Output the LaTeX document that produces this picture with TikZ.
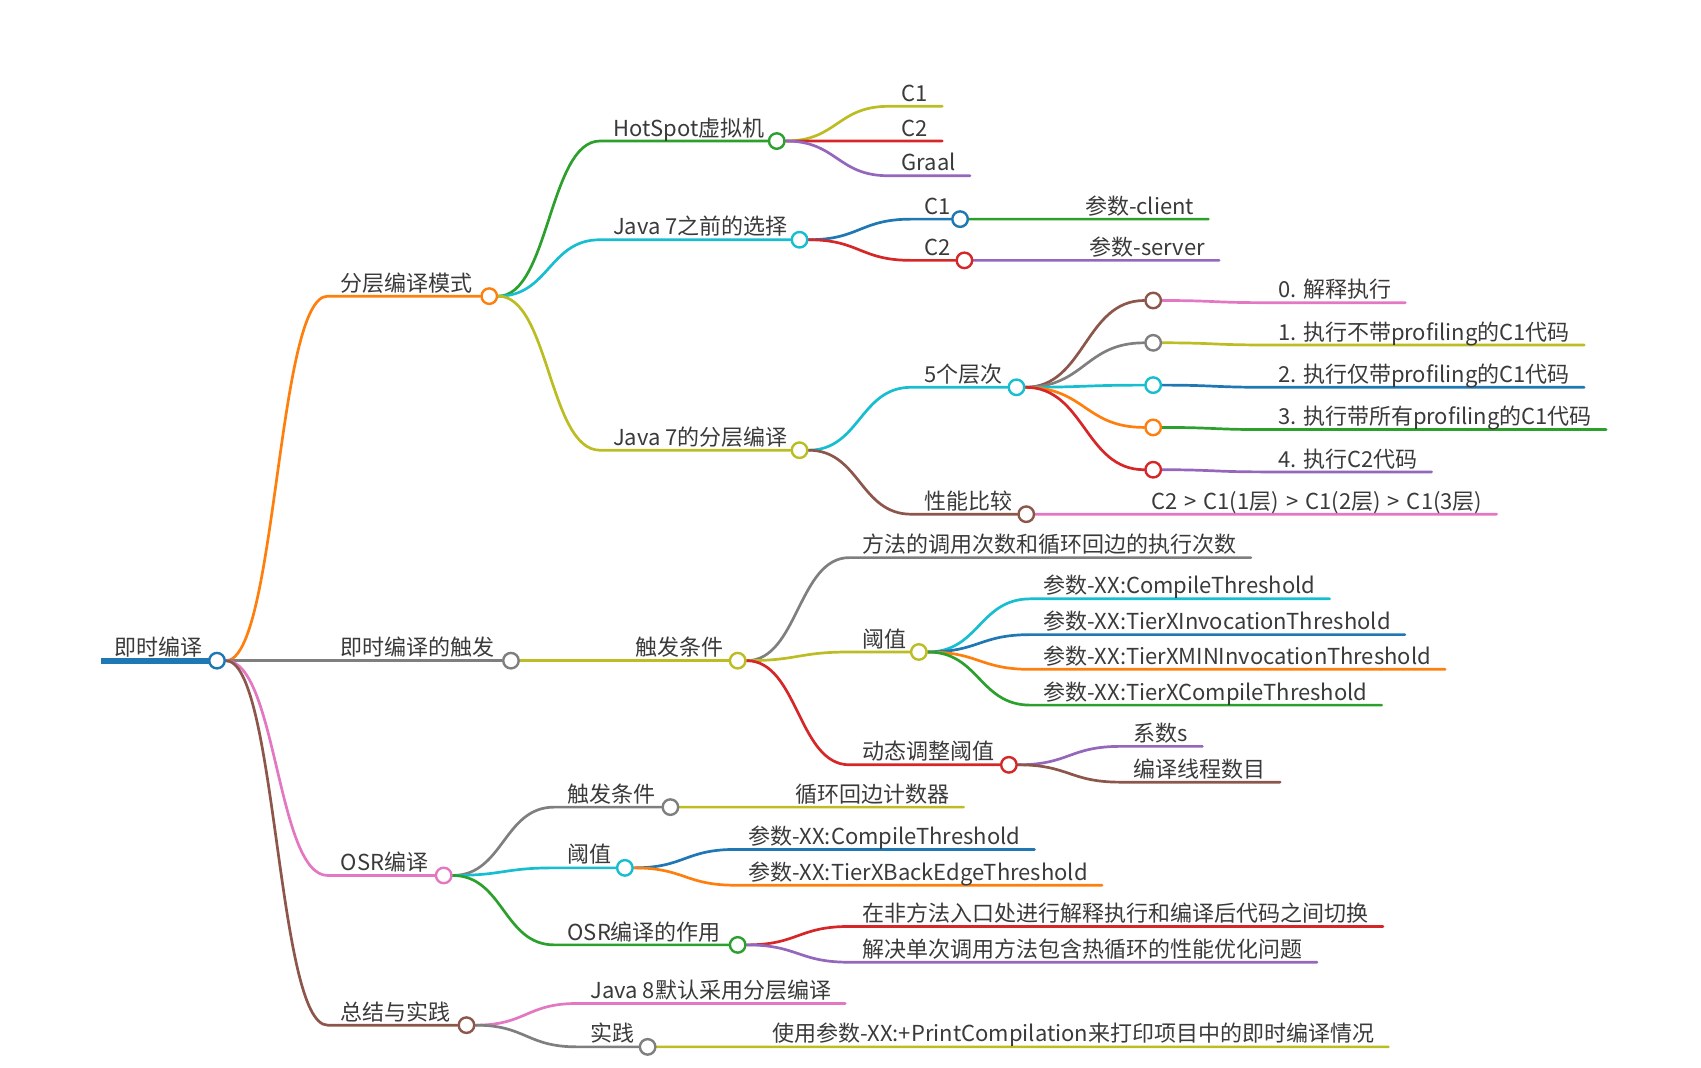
\documentclass[tikz,border=0pt]{standalone}
\usepackage{fontspec}
\setmainfont{Noto Sans CJK SC}
\usetikzlibrary{calc}
\pgfdeclarelayer{bg}
\pgfsetlayers{bg,main}
\definecolor{cblue}{HTML}{1F77B4}
\definecolor{corange}{HTML}{FF7F0E}
\definecolor{cgreen}{HTML}{2CA02C}
\definecolor{cred}{HTML}{D62728}
\definecolor{cpurple}{HTML}{9467BD}
\definecolor{cbrown}{HTML}{8C564B}
\definecolor{cpink}{HTML}{E377C2}
\definecolor{cgray}{HTML}{7F7F7F}
\definecolor{colive}{HTML}{BCBD22}
\definecolor{ccyan}{HTML}{17BECF}
\definecolor{txt}{HTML}{3A3A3A}
\tikzset{
  edge/.style={line width=2.7pt, line cap=round},
  dot/.style={circle, draw=#1, fill=white, line width=2.4pt, minimum size=15.5pt, inner sep=0pt},
  lbl/.style={anchor=base west, inner sep=0pt, font=\fontsize{22}{26}\selectfont, text=txt},
}
\newcommand\curv[3]{\draw[edge,#1] let \p1=(#2), \p2=(#3) in (\p1) .. controls ({0.5*\x1+0.5*\x2},\y1) and ({0.5*\x1+0.5*\x2},\y2) .. (\p2);}
\newcommand\brch[4]{\draw[edge,#1] let \p1=(#2), \p2=(#3) in (\p1) .. controls ({0.5*\x1+0.5*\x2},\y1) and ({0.5*\x1+0.5*\x2},\y2) .. (\p2) -- (#4);}
% leaf text: name, x of text, y of line, text  -> nodes t<name>, b<name> (bend), e<name> (line end)
\newcommand\leaf[4]{\node[lbl] (t#1) at (#2,#3-4.5) {#4};
  \coordinate (b#1) at (#2-12,#3);
  \coordinate (e#1) at ($(t#1.base east)+(13,4.5)$);}
% inner node: name, x of text, y of line, circle x, colour, text
\newcommand\inner[6]{\node[lbl] (t#1) at (#2,#3-4.5) {#6};
  \coordinate (b#1) at (#2-12,#3);
  \node[dot=#5] (#1) at (#4,#3) {};}
\newcommand\gtsp{\hspace{0.32em}>\hspace{0.32em}}
\begin{document}
\begin{tikzpicture}[x=1.0848pt,y=-1.0848pt]
\useasboundingbox (0,0) rectangle (1568,984);
% ---------- root
\coordinate (R0) at (93,609);
\node[lbl] (tR) at (105,604.5) {即时编译};
\node[dot=cblue] (R) at (200,609) {};
% ---------- level 1
\inner{A}{314}{273}{451}{corange}{分层编译模式}
\inner{B}{314}{609}{471}{cgray}{即时编译的触发}
\inner{C}{314}{807}{409}{cpink}{OSR编译}
\inner{D}{314}{945}{430}{cbrown}{总结与实践}
% ---------- A children
\inner{A1}{565}{130}{716}{cgreen}{HotSpot虚拟机}
\inner{A2}{565}{221}{737}{ccyan}{Java 7之前的选择}
\inner{A3}{565}{415}{737}{colive}{Java 7的分层编译}
\leaf{A1a}{831}{98}{C1}
\leaf{A1b}{831}{130}{C2}
\leaf{A1c}{831}{162}{Graal}
\inner{A2a}{852}{202}{885}{cblue}{C1}
\inner{A2b}{852}{240}{889}{cred}{C2}
\leaf{A2a1}{1000}{202}{参数-client}
\leaf{A2b1}{1004}{240}{参数-server}
\inner{A3a}{852}{357}{937}{ccyan}{5个层次}
\inner{A3b}{852}{474}{946}{cbrown}{性能比较}
\node[dot=cbrown]  (L0) at (1063,277) {};
\node[dot=cgray]   (L1) at (1063,316) {};
\node[dot=ccyan]   (L2) at (1063,355) {};
\node[dot=corange] (L3) at (1063,394) {};
\node[dot=cred]    (L4) at (1063,433) {};
\leaf{L0t}{1178}{279}{0. 解释执行}
\leaf{L1t}{1178}{318}{1. 执行不带profiling的C1代码}
\leaf{L2t}{1178}{357}{2. 执行仅带profiling的C1代码}
\leaf{L3t}{1178}{396}{3. 执行带所有profiling的C1代码}
\leaf{L4t}{1178}{435}{4. 执行C2代码}
\leaf{A3b1}{1061}{474}{C2\gtsp C1(1层)\gtsp C1(2层)\gtsp C1(3层)}
% ---------- B children
\inner{B1}{586}{609}{680}{colive}{触发条件}
\leaf{B1a}{795}{514}{方法的调用次数和循环回边的执行次数}
\inner{B1b}{795}{601}{847}{colive}{阈值}
\inner{B1c}{795}{705}{930}{cred}{动态调整阈值}
\leaf{T1}{962}{552}{参数-XX:CompileThreshold}
\leaf{T2}{962}{585}{参数-XX:TierXInvocationThreshold}
\leaf{T3}{962}{617}{参数-XX:TierXMINInvocationThreshold}
\leaf{T4}{962}{650}{参数-XX:TierXCompileThreshold}
\leaf{K1}{1045}{688}{系数s}
\leaf{K2}{1045}{721}{编译线程数目}
% ---------- C children
\inner{C1}{523}{744}{618}{cgray}{触发条件}
\inner{C2}{523}{800}{576}{ccyan}{阈值}
\inner{C3}{523}{871}{680}{cgreen}{OSR编译的作用}
\leaf{C1a}{733}{744}{循环回边计数器}
\leaf{C2a}{690}{783}{参数-XX:CompileThreshold}
\leaf{C2b}{690}{816}{参数-XX:TierXBackEdgeThreshold}
\leaf{C3a}{795}{854}{在非方法入口处进行解释执行和编译后代码之间切换}
\leaf{C3b}{795}{887}{解决单次调用方法包含热循环的性能优化问题}
% ---------- D children
\leaf{D1}{544}{925}{Java 8默认采用分层编译}
\inner{D2}{544}{965}{597}{cgray}{实践}
\leaf{D2a}{712}{965}{使用参数-XX:+PrintCompilation来打印项目中的即时编译情况}
% ================= edges
\begin{pgfonlayer}{bg}
\draw[cblue, line width=6pt] (R0) -- (R.center);
\brch{corange}{R.east}{bA}{A.west}
\brch{cgray}{R.east}{bB}{B.west}
\brch{cpink}{R.east}{bC}{C.west}
\brch{cbrown}{R.east}{bD}{D.west}
% A
\brch{cgreen}{A.east}{bA1}{A1.west}
\brch{ccyan}{A.east}{bA2}{A2.west}
\brch{colive}{A.east}{bA3}{A3.west}
\brch{colive}{A1.east}{bA1a}{eA1a}
\brch{cred}{A1.east}{bA1b}{eA1b}
\brch{cpurple}{A1.east}{bA1c}{eA1c}
\brch{cblue}{A2.east}{bA2a}{A2a.west}
\brch{cred}{A2.east}{bA2b}{A2b.west}
\brch{cgreen}{A2a.east}{bA2a1}{eA2a1}
\brch{cpurple}{A2b.east}{bA2b1}{eA2b1}
\brch{ccyan}{A3.east}{bA3a}{A3a.west}
\brch{cbrown}{A3.east}{bA3b}{A3b.west}
\curv{cbrown}{A3a.east}{L0.west}
\curv{cgray}{A3a.east}{L1.west}
\curv{ccyan}{A3a.east}{L2.west}
\curv{corange}{A3a.east}{L3.west}
\curv{cred}{A3a.east}{L4.west}
\brch{cpink}{L0.east}{bL0t}{eL0t}
\brch{colive}{L1.east}{bL1t}{eL1t}
\brch{cblue}{L2.east}{bL2t}{eL2t}
\brch{cgreen}{L3.east}{bL3t}{eL3t}
\brch{cpurple}{L4.east}{bL4t}{eL4t}
\brch{cpink}{A3b.east}{bA3b1}{eA3b1}
% B
\brch{colive}{B.east}{bB1}{B1.west}
\brch{cgray}{B1.east}{bB1a}{eB1a}
\brch{colive}{B1.east}{bB1b}{B1b.west}
\brch{cred}{B1.east}{bB1c}{B1c.west}
\brch{ccyan}{B1b.east}{bT1}{eT1}
\brch{cblue}{B1b.east}{bT2}{eT2}
\brch{corange}{B1b.east}{bT3}{eT3}
\brch{cgreen}{B1b.east}{bT4}{eT4}
\brch{cpurple}{B1c.east}{bK1}{eK1}
\brch{cbrown}{B1c.east}{bK2}{eK2}
% C
\brch{cgray}{C.east}{bC1}{C1.west}
\brch{ccyan}{C.east}{bC2}{C2.west}
\brch{cgreen}{C.east}{bC3}{C3.west}
\brch{colive}{C1.east}{bC1a}{eC1a}
\brch{cblue}{C2.east}{bC2a}{eC2a}
\brch{corange}{C2.east}{bC2b}{eC2b}
\brch{cred}{C3.east}{bC3a}{eC3a}
\brch{cpurple}{C3.east}{bC3b}{eC3b}
% D
\brch{cpink}{D.east}{bD1}{eD1}
\brch{cgray}{D.east}{bD2}{D2.west}
\brch{colive}{D2.east}{bD2a}{eD2a}
\end{pgfonlayer}
\end{tikzpicture}
\end{document}
